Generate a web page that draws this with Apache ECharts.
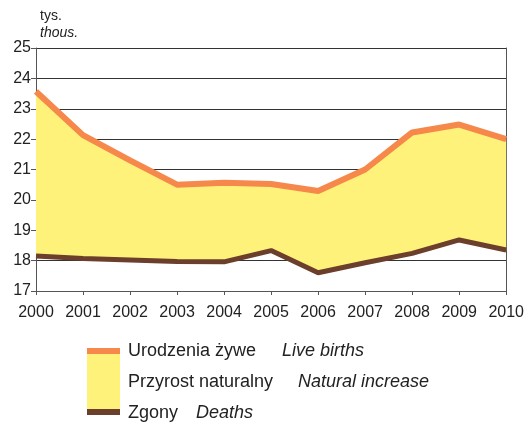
<!DOCTYPE html>
<html>
<head>
<meta charset="utf-8">
<script src="https://cdn.jsdelivr.net/npm/echarts@6/dist/echarts.min.js"></script>
<style>
  html, body { margin: 0; padding: 0; background: #fff; }
  #chart { width: 527px; height: 424px; }
</style>
</head>
<body>
<div id="chart"></div>
<script>
const years = ['2000', '2001', '2002', '2003', '2004', '2005', '2006', '2007', '2008', '2009', '2010']
const births = [23.57, 22.13, 21.3, 20.5, 20.56, 20.52, 20.29, 21.0, 22.22, 22.48, 22.0]
const deaths = [18.15, 18.07, 18.02, 17.97, 17.96, 18.33, 17.6, 17.93, 18.24, 18.68, 18.35]
const increase = births.map((b, i) => +(b - deaths[i]).toFixed(2))

const font = 'Liberation Sans, Arial, sans-serif'
const chart = echarts.init(document.getElementById('chart'))

// legend entries: plain polish text + italic english
function legendText(y, pl, en, w) {
  return {
    type: 'text',
    style: {
      x: 128, y: y, verticalAlign: 'middle',
      text: '{a|' + pl + '}{i|' + en + '}',
      rich: {
        a: { font: '18px ' + font, fill: '#222', width: w },
        i: { font: 'italic 18px ' + font, fill: '#222' }
      }
    }
  }
}

chart.setOption({
  animation: false,
  grid: { left: 36, right: 20, top: 48, bottom: 133 },
  xAxis: {
    type: 'category',
    boundaryGap: false,
    data: years,
    axisLine: { lineStyle: { color: '#555', width: 1 } },
    axisTick: { alignWithLabel: true, length: 4, lineStyle: { color: '#555' } },
    axisLabel: { color: '#222', fontSize: 16, fontFamily: font, margin: 14 },
    splitLine: { show: false }
  },
  yAxis: [{
    type: 'value',
    min: 17,
    max: 25,
    interval: 1,
    axisLine: { show: true, lineStyle: { color: '#555' } },
    axisTick: { show: true, length: 5, lineStyle: { color: '#555' } },
    axisLabel: { color: '#222', fontSize: 16, fontFamily: font, margin: 5 },
    splitLine: { lineStyle: { color: '#333', width: 1 } }
  }, {
    type: 'value',
    min: 17,
    max: 25,
    interval: 1,
    position: 'right',
    axisLine: { show: true, lineStyle: { color: '#555' } },
    axisTick: { show: false },
    axisLabel: { show: false },
    splitLine: { show: false }
  }],
  series: [
    {
      name: 'base',
      type: 'line',
      stack: 'a',
      data: deaths,
      symbol: 'none',
      lineStyle: { width: 0 },
      areaStyle: { opacity: 0 },
      silent: true
    },
    {
      name: 'Przyrost naturalny',
      type: 'line',
      stack: 'a',
      data: increase,
      symbol: 'none',
      lineStyle: { width: 0 },
      areaStyle: { color: '#FFF27A', opacity: 1 }
    },
    {
      name: 'Zgony',
      type: 'line',
      data: deaths,
      symbol: 'none',
      lineStyle: { color: '#6B3F2C', width: 5 }
    },
    {
      name: 'Urodzenia żywe',
      type: 'line',
      data: births,
      symbol: 'none',
      lineStyle: { color: '#F5884A', width: 6 }
    }
  ],
  graphic: [
    {
      type: 'text',
      style: { x: 40, y: 16, verticalAlign: 'middle', text: 'tys.', font: '14px ' + font, fill: '#222' }
    },
    {
      type: 'text',
      style: { x: 40, y: 33, verticalAlign: 'middle', text: 'thous.', font: 'italic 14px ' + font, fill: '#222' }
    },
    { type: 'rect', shape: { x: 87, y: 348, width: 33, height: 67 }, style: { fill: '#FFF27A' } },
    { type: 'rect', shape: { x: 87, y: 348, width: 33, height: 6 }, style: { fill: '#F5884A' } },
    { type: 'rect', shape: { x: 87, y: 409, width: 33, height: 6 }, style: { fill: '#6B3F2C' } },
    legendText(351, 'Urodzenia żywe', 'Live births', 154),
    legendText(382, 'Przyrost naturalny', 'Natural increase', 170),
    legendText(413, 'Zgony', 'Deaths', 68)
  ]
})
</script>
</body>
</html>
